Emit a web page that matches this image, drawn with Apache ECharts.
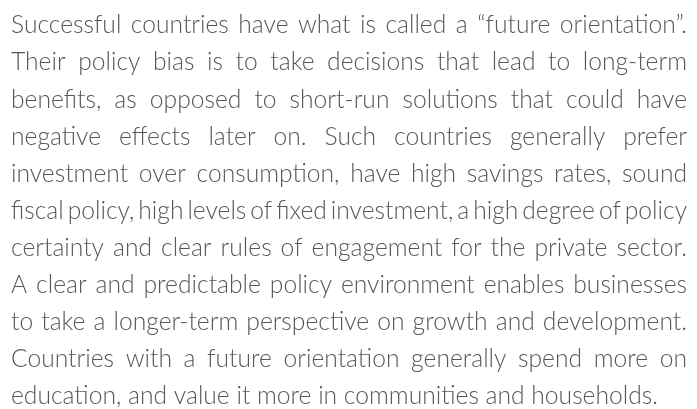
<!DOCTYPE html>
<html>
<head>
<meta charset="UTF-8">
<title>Future orientation</title>
<script src="https://cdn.jsdelivr.net/npm/echarts@6/dist/echarts.min.js" type="text/javascript"></script>
<style>
  html, body { margin: 0; padding: 0; background: #fff; }
</style>
</head>
<body>
<div id="main" style="width:697px;height:409px;"></div>
<script>
// text lines of the paragraph, as broken in the picture
var lines = [
    'Successful countries have what is called a \u201cfuture orientation\u201d.',
    'Their policy bias is to take decisions that lead to long-term',
    'benefits, as opposed to short-run solutions that could have',
    'negative effects later on. Such countries generally prefer',
    'investment over consumption, have high savings rates, sound',
    'fiscal policy, high levels of fixed investment, a high degree of policy',
    'certainty and clear rules of engagement for the private sector.',
    'A clear and predictable policy environment enables businesses',
    'to take a longer-term perspective on growth and development.',
    'Countries with a future orientation generally spend more on',
    'education, and value it more in communities and households.'
];

var left = 11, right = 687;      // text block edges
var lastRight = 658;             // where the unjustified last line ends
var firstBase = 38, lineGap = 37.1;
var fontSize = 26;
var fontFamily = 'Lato, "Open Sans", sans-serif';
var fontWeight = 300;
var color = '#575757';

// measure words with a plain canvas
var ctx = document.createElement('canvas').getContext('2d');
ctx.font = fontWeight + ' ' + fontSize + 'px ' + fontFamily;
function w(t) { return ctx.measureText(t).width; }

var width = right - left;
var spaceW = w(' ');

// base squeeze taken from the last line, tighter only where a line would not fit
var baseSx = (lastRight - left) / w(lines[lines.length - 1]);
var minGap = spaceW * 0.55;

var elements = [];
lines.forEach(function (ln, i) {
    var words = ln.split(' ');
    var raw = words.map(function (t) { return w(t); });
    var rawSum = raw.reduce(function (a, b) { return a + b; }, 0);
    var last = i === lines.length - 1;
    var sx = baseSx;
    if (!last) {
        var fit = (width - minGap * (words.length - 1)) / rawSum;
        if (fit < sx) sx = fit;
    }
    var widths = raw.map(function (v) { return v * sx; });
    var sum = rawSum * sx;
    var gap = last ? spaceW * sx : (width - sum) / (words.length - 1);
    var x = left;
    var y = firstBase + i * lineGap;
    words.forEach(function (t, k) {
        elements.push({
            type: 'text',
            x: x,
            y: y,
            scaleX: sx,
            silent: true,
            style: {
                text: t,
                fill: color,
                font: fontWeight + ' ' + fontSize + 'px ' + fontFamily,
                textAlign: 'left',
                textVerticalAlign: 'bottom'
            }
        });
        x += widths[k] + gap;
    });
});

var myChart = echarts.init(document.getElementById('main'));
myChart.setOption({
    animation: false,
    backgroundColor: '#fff',
    graphic: { elements: elements }
});
</script>
</body>
</html>
